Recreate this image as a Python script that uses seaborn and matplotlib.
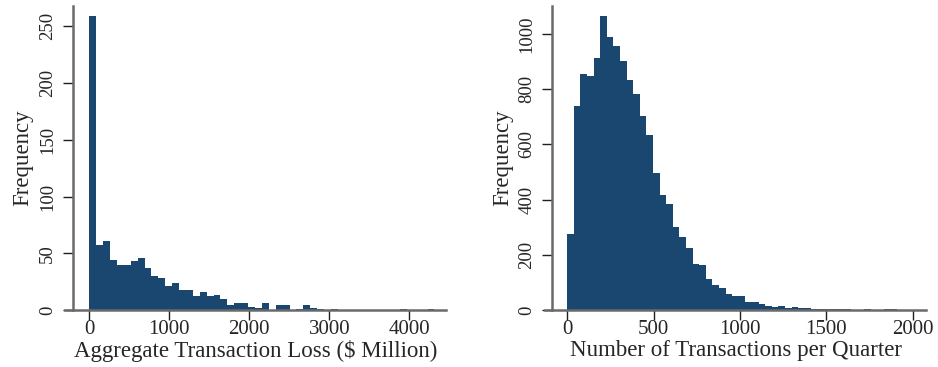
import numpy as np
import pandas as pd
import matplotlib
matplotlib.use("Agg")
import matplotlib.pyplot as plt
import seaborn as sns

# Aggregate transaction loss ($ million): 50 equal-width bins starting at 0
loss_bin_start = 0.0
loss_bin_width = 86.3
loss_counts = [259, 57, 61, 44, 40, 40, 43, 46, 37, 30,
               28, 21, 24, 18, 18, 12, 16, 12, 13, 10,
               4, 6, 6, 3, 2, 6, 0, 4, 4, 0,
               1, 4, 2, 1, 0, 1, 0, 0, 0, 0,
               0, 0, 0, 0, 0, 1, 0, 0, 0, 1]
loss_ticks = [0, 1000, 2000, 3000, 4000]
loss_yticks = [0, 50, 100, 150, 200, 250]

# Number of transactions per quarter: 50 equal-width bins starting at 0
txn_bin_start = 0.0
txn_bin_width = 38.2
txn_counts = [275, 739, 853, 848, 911, 1066, 988, 957, 902, 833,
              783, 704, 634, 496, 416, 385, 302, 263, 224, 165,
              162, 114, 91, 79, 58, 51, 51, 28, 29, 22,
              16, 11, 14, 6, 10, 6, 6, 5, 5, 4,
              3, 2, 2, 0, 0, 2, 0, 0, 2, 2]
txn_ticks = [0, 500, 1000, 1500, 2000]
txn_yticks = [0, 200, 400, 600, 800, 1000]

sns.set_style("ticks")
plt.rcParams["font.family"] = ["Liberation Serif", "DejaVu Serif"]

BAR = "#1a476f"
AXIS = "#6a6a6a"
TITLE_SIZE = 16.5
XTICK_SIZE = 15
YTICK_SIZE = 13.5

W, H = 938, 367
fig = plt.figure(figsize=(W / 100, H / 100), dpi=100)
fig.patch.set_facecolor("white")


def panel(rect, start, width, counts, xlim, yspine, ylim, xticks, yticks, xlabel, ylabel_x):
    ax = fig.add_axes(rect)
    n = len(counts)
    centers = start + width * (np.arange(n) + 0.5)
    df = pd.DataFrame({"value": centers, "count": counts})
    sns.histplot(data=df, x="value", weights="count", binwidth=width,
                 binrange=(start, start + n * width), ax=ax, color=BAR,
                 alpha=1.0, linewidth=0)
    ax.set_xlim(*xlim)
    ax.set_ylim(*ylim)
    ax.set_xticks(xticks)
    ax.set_yticks(yticks)
    ax.set_xticklabels([str(t) for t in xticks])
    ax.set_yticklabels([str(t) for t in yticks])
    for s in ("top", "right"):
        ax.spines[s].set_visible(False)
    for s in ("left", "bottom"):
        ax.spines[s].set_color(AXIS)
        ax.spines[s].set_linewidth(1.8)
    ax.spines["left"].set_position(("data", yspine))
    ax.tick_params(axis="both", direction="out", length=7, width=1.0,
                   color="#1e1e1e")
    ax.tick_params(axis="x", labelsize=XTICK_SIZE, pad=0.5)
    ax.tick_params(axis="y", labelsize=YTICK_SIZE, pad=5, labelrotation=90)
    for lab in ax.get_yticklabels():
        lab.set_va("center")
    ax.set_xlabel(xlabel, fontsize=TITLE_SIZE, labelpad=0.5)
    ax.set_ylabel("Frequency", fontsize=TITLE_SIZE)
    ax.yaxis.set_label_coords(ylabel_x, 0.5)
    ax.set_facecolor("white")
    return ax


panel([65 / W, 57 / H, 381 / W, 304 / H], loss_bin_start, loss_bin_width, loss_counts,
      (-304, 4459), -204, (0, 268), loss_ticks, loss_yticks,
      "Aggregate Transaction Loss ($ Million)", -0.082)

panel([545 / W, 57 / H, 381 / W, 304 / H], txn_bin_start, txn_bin_width, txn_counts,
      (-129, 2077), -87, (0, 1101), txn_ticks, txn_yticks,
      "Number of Transactions per Quarter", -0.082)

fig.savefig("out.png", dpi=100, facecolor="white")
